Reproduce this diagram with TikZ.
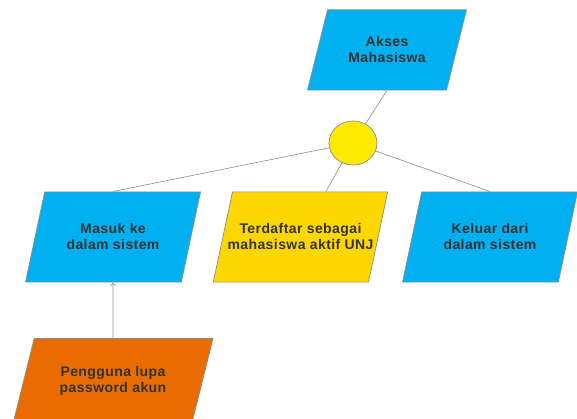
\documentclass[tikz,border=0pt]{standalone}
\usepackage{fontspec}
\setmainfont{Liberation Sans}[LetterSpace=3]
\usetikzlibrary{shapes.geometric,arrows.meta}

\definecolor{boxblue}{HTML}{00B0F0}
\definecolor{boxyellow}{HTML}{FFD700}
\definecolor{dotyellow}{HTML}{FFE900}
\definecolor{boxorange}{HTML}{E96C00}
\definecolor{linegray}{HTML}{8C8C8C}
\definecolor{textgray}{HTML}{333333}

\begin{document}
\begin{tikzpicture}[x=1pt, y=1pt,
        para/.style={trapezium, trapezium stretches body, trapezium left angle=78, trapezium right angle=102,
            draw=linegray, line width=0.7pt, inner xsep=0pt, inner ysep=32pt, align=center, text=textgray,
            font=\fontsize{14}{16}\selectfont\bfseries},
        goal/.style={para, fill=boxblue},
        cond/.style={para, fill=boxyellow},
        cause/.style={para, fill=boxorange},
        andnode/.style={ellipse, draw=linegray, line width=0.7pt, fill=dotyellow, minimum width=48pt, minimum height=44pt, inner sep=0pt},
        links/.style={draw=linegray, line width=0.6pt},
        paths/.style={links, -{Straight Barb[length=3pt, width=5pt]}}
    ]
        \useasboundingbox (0,0) rectangle (577,419);
        \clip (0,0) rectangle (577,419);

        % Nodes
        \node[goal, minimum width=159pt, inner ysep=27pt, trapezium left angle=76, trapezium right angle=104] (akses) at (387,369) {Akses\\Mahasiswa};
        \node[andnode] (and) at (353,276) {};

        \node[goal, minimum width=175pt] (masuk) at (113,182) {Masuk ke\\dalam sistem};
        \node[cond, inner xsep=-5pt] (daftar) at (300.5,182) {Terdaftar sebagai\\mahasiswa aktif UNJ};
        \node[goal, minimum width=175pt] (keluar) at (490,182) {Keluar dari\\dalam sistem};

        \node[cause, minimum width=200pt, inner ysep=28pt, trapezium left angle=76, trapezium right angle=104] (lupa) at (113,38) {Pengguna lupa\\password akun};

        % Paths: Decomposition
        \draw[links] (and) -- (akses.south);
        \draw[links] (and) -- (masuk.north);
        \draw[links] (and) -- (daftar);
        \draw[links] (and) -- (keluar.north);

        % Paths: Obstacle
        \draw[paths] (lupa.north) -- (masuk.south);
    \end{tikzpicture}
\end{document}
